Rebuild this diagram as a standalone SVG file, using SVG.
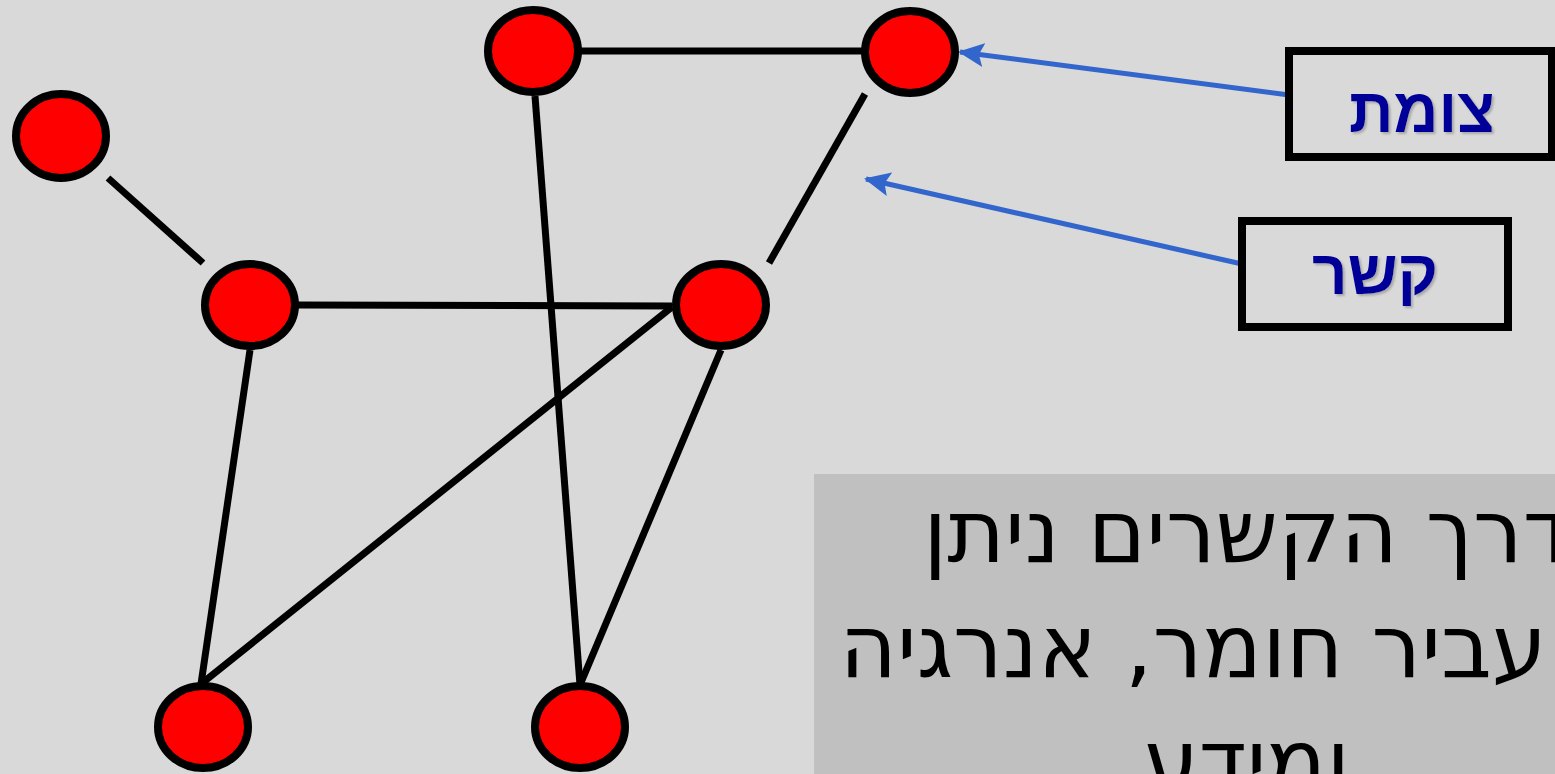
<svg xmlns="http://www.w3.org/2000/svg" width="1555" height="774" viewBox="0 0 1555 774">
<style>
.node{fill:#FF0000;stroke:#000;stroke-width:8}
.edge{stroke:#000;stroke-width:7;fill:none}
.arrow{stroke:#3366CC;stroke-width:5;fill:none;marker-end:url(#ah)}
.lbox{fill:none;stroke:#000;stroke-width:8}
.ltext{font-family:"Liberation Sans",Arial,sans-serif;font-weight:bold;font-size:62px;fill:#000099;text-anchor:middle;filter:url(#sh)}
.body{font-family:"DejaVu Sans","Open Sans",sans-serif;font-size:88px;fill:#000;text-anchor:middle}
</style>
<defs>
<marker id="ah" viewBox="0 0 26 24" refX="24" refY="12" markerWidth="26" markerHeight="24" orient="auto" markerUnits="userSpaceOnUse">
<path d="M0,0 L26,12 L0,24 L5,12 z" fill="#3366CC"/>
</marker>
<filter id="sh" x="-10%" y="-10%" width="130%" height="130%">
<feDropShadow dx="2" dy="2" stdDeviation="1" flood-color="#888" flood-opacity="0.6"/>
</filter>
</defs>
<rect x="0" y="0" width="1555" height="774" fill="#D9D9D9"/>
<g id="connectors">
<line class="edge" x1="108" y1="178" x2="203" y2="263"/>
<line class="edge" x1="581" y1="51" x2="862" y2="51"/>
<line class="edge" x1="535" y1="96" x2="580" y2="685"/>
<line class="edge" x1="865" y1="94" x2="769" y2="263"/>
<line class="edge" x1="298" y1="305" x2="672" y2="306"/>
<line class="edge" x1="250" y1="350" x2="201" y2="684"/>
<line class="edge" x1="672" y1="307" x2="201" y2="684"/>
<line class="edge" x1="721" y1="350" x2="580" y2="685"/>
<line class="arrow" x1="1289" y1="95" x2="960" y2="52"/>
<line class="arrow" x1="1242" y1="264" x2="866" y2="179"/>
</g>
<g id="n1"><ellipse class="node" cx="61" cy="136" rx="45" ry="42"/></g>
<g id="n2"><ellipse class="node" cx="533" cy="51" rx="45" ry="41"/></g>
<g id="n3"><ellipse class="node" cx="910" cy="52" rx="45" ry="41"/></g>
<g id="n4"><ellipse class="node" cx="250" cy="305" rx="45" ry="41"/></g>
<g id="n5"><ellipse class="node" cx="721" cy="305" rx="45" ry="41"/></g>
<g id="n6"><ellipse class="node" cx="203" cy="727" rx="45" ry="41"/></g>
<g id="n7"><ellipse class="node" cx="580" cy="727" rx="45" ry="41"/></g>
<g id="label-node">
<rect class="lbox" x="1289" y="51" width="263" height="106"/>
<text class="ltext" x="1422" y="132" direction="rtl">צומת</text>
</g>
<g id="label-link">
<rect class="lbox" x="1242" y="221" width="266" height="106"/>
<text class="ltext" x="1375" y="294" direction="rtl">קשר</text>
</g>
<g id="info">
<rect x="814" y="474" width="741" height="300" fill="#C0C0C0"/>
<text class="body" x="1247" y="562" direction="rtl">דרך הקשרים ניתן</text>
<text class="body" x="1247" y="677" direction="rtl">להעביר חומר, אנרגיה</text>
<text class="body" x="1247" y="792" direction="rtl">ומידע</text>
</g>
</svg>
